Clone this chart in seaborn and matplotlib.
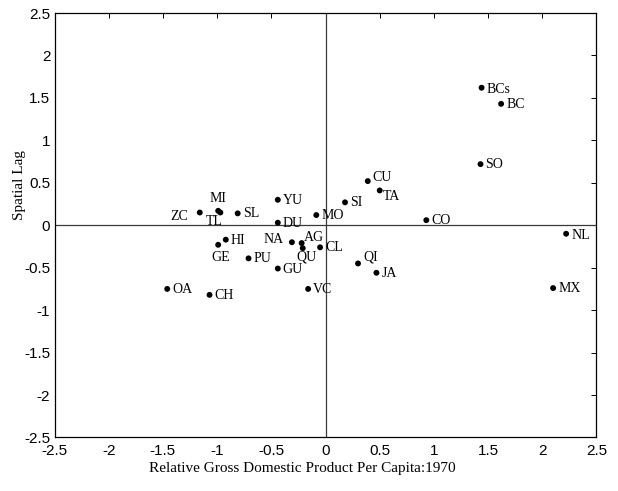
import matplotlib
matplotlib.use("Agg")
import matplotlib.pyplot as plt
import seaborn as sns
import pandas as pd

# ---- data ----
states = ["BCs", "BC", "SO", "CU", "TA", "SI", "CO", "NL", "QI", "JA", "MX",
          "MI", "TL", "ZC", "SL", "YU", "DU", "MO", "HI", "GE", "NA", "AG",
          "QU", "CL", "PU", "GU", "OA", "CH", "VC"]
gdp_rel = [1.44, 1.62, 1.43, 0.39, 0.50, 0.18, 0.93, 2.22, 0.30, 0.47, 2.10,
           -0.99, -0.97, -1.16, -0.81, -0.44, -0.44, -0.085, -0.92, -0.99, -0.31, -0.22,
           -0.21, -0.05, -0.71, -0.44, -1.46, -1.07, -0.16]
spatial_lag = [1.62, 1.43, 0.72, 0.52, 0.41, 0.27, 0.06, -0.10, -0.45, -0.56, -0.74,
               0.17, 0.15, 0.15, 0.14, 0.30, 0.03, 0.12, -0.17, -0.23, -0.20, -0.21,
               -0.27, -0.26, -0.39, -0.51, -0.75, -0.82, -0.75]
ticks = [-2.5, -2, -1.5, -1, -0.5, 0, 0.5, 1, 1.5, 2, 2.5]
tick_labels = ["-2.5", "-2", "-1.5", "-1", "-0.5", "0", "0.5", "1", "1.5", "2", "2.5"]

df = pd.DataFrame({"state": states, "x": gdp_rel, "y": spatial_lag})

# ---- style ----
sns.set_theme(style="white")
plt.rcParams["font.family"] = ["Liberation Sans", "DejaVu Sans"]
plt.rcParams["xtick.direction"] = "in"
plt.rcParams["ytick.direction"] = "in"

fig, ax = plt.subplots(figsize=(6.18, 4.91), dpi=100)
fig.subplots_adjust(left=0.0882, right=0.9652, top=0.9735, bottom=0.109)

ax.axhline(0, color="#3a3a3a", lw=0.9, zorder=1)
ax.axvline(0, color="#3a3a3a", lw=0.9, zorder=1)

sns.scatterplot(data=df, x="x", y="y", ax=ax, color="black", s=18,
                edgecolor="none", zorder=3, legend=False)

# label offsets in pixels (dx, dy downwards), and alignment
px = 0.72
special = {
    "MI": (0, -12, "center"),
    "TL": (-6, 9, "center"),
    "ZC": (-12, 4, "right"),
    "NA": (-8, -3, "right"),
    "AG": (2, -6, "left"),
    "QU": (4, 9, "center"),
    "GE": (3, 12.5, "center"),
    "QI": (5.5, -6, "left"),
    "CU": (5, -4, "left"),
    "TA": (3.5, 6.5, "left"),
    "NL": (5, 2, "left"),
    "BCs": (5, 2, "left"),
}
for s, xv, yv in zip(states, gdp_rel, spatial_lag):
    dx, dy, ha = special.get(s, (5, 0.5, "left"))
    ax.annotate(s, (xv, yv), xytext=(dx * px, -dy * px), textcoords="offset points",
                ha=ha, va="center", fontsize=10, family="Liberation Serif",
                color="black", zorder=4)

ax.set_xlim(-2.5, 2.5)
ax.set_ylim(-2.5, 2.5)
ax.set_xticks(ticks)
ax.set_xticklabels(tick_labels)
ax.set_yticks(ticks)
ax.set_yticklabels(tick_labels)
ax.tick_params(axis="both", which="both", direction="in", length=3.5, width=0.7,
               top=True, right=True, labelsize=11, colors="black", pad=3)
ax.tick_params(axis="x", pad=5)

for sp in ax.spines.values():
    sp.set_color("black")
    sp.set_linewidth(0.9)

ax.set_xlabel("Relative Gross Domestic Product Per Capita:1970",
              family="Liberation Serif", fontsize=11, color="black")
ax.set_ylabel("Spatial Lag", family="Liberation Serif", fontsize=11, color="black")
ax.xaxis.set_label_coords(0.458, -0.057)
ax.yaxis.set_label_coords(-0.052, 0.595)

fig.savefig("out.png", dpi=100)
